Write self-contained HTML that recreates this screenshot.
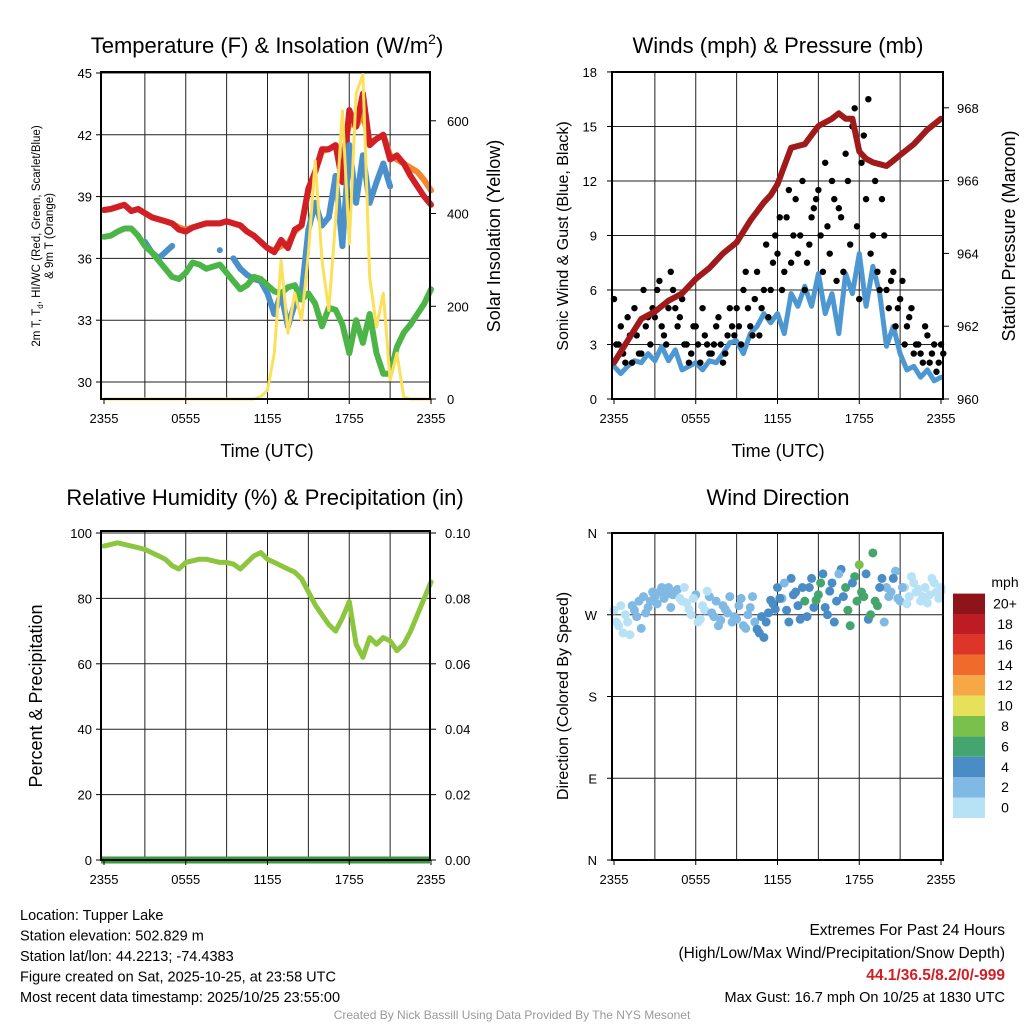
<!DOCTYPE html>
<html><head><meta charset="utf-8">
<style>
html,body{margin:0;padding:0;background:#fff;}
svg{display:block;font-family:"Liberation Sans",Arial,sans-serif;}
</style></head>
<body>
<svg id="c" width="1024" height="1024" viewBox="0 0 1024 1024" xmlns="http://www.w3.org/2000/svg"></svg>
<script>
// ---- data (half-hourly, 49 points from 2355 to 2355) ----
const timeTicks = ["2355","0555","1155","1755","2355"];
const tempRed = [38.35,38.4,38.5,38.6,38.3,38.4,38.2,38.0,37.9,37.8,37.7,37.4,37.3,37.5,37.6,37.7,37.7,37.7,37.8,37.7,37.6,37.3,37.1,36.8,36.5,36.3,36.9,36.5,37.4,37.6,39.4,40.2,41.3,41.3,41.5,39.7,43.2,42.4,44.0,41.5,41.8,42.0,40.8,41.0,40.6,40.0,39.5,39.0,38.6];
const tempOrange = [38.35,38.4,38.5,38.6,38.3,38.4,38.2,38.0,37.9,37.8,37.7,37.5,37.4,37.5,37.6,37.7,37.7,37.7,37.8,37.7,37.6,37.3,37.1,36.8,36.5,36.4,36.6,36.7,37.3,37.6,39.3,40.2,41.2,41.3,41.5,40.8,42.6,42.4,43.0,41.6,41.8,42.0,41.0,40.8,40.6,40.4,40.2,39.8,39.3];
const dewGreen = [37.05,37.1,37.3,37.45,37.45,37.1,36.6,36.3,35.9,35.5,35.1,35.0,35.3,35.8,35.7,35.5,35.6,35.7,35.3,34.9,34.5,34.7,35.1,35.0,34.7,34.4,34.3,34.6,34.7,34.0,34.3,33.8,32.7,33.6,33.5,32.8,31.4,33.0,31.9,33.3,31.4,30.4,30.4,31.7,32.4,32.8,33.3,33.8,34.5];
const hiwcBlue = [null,null,null,null,null,null,36.8,36.3,36.0,36.3,36.6,null,null,null,null,null,null,36.4,null,36.0,35.5,35.2,35.0,34.9,34.3,33.3,34.3,32.7,33.8,34.3,37.4,38.7,37.6,38.0,40.0,36.6,41.5,38.7,41.0,38.7,39.7,40.6,39.5,null,null,null,null,null,null];
const solar = [0,0,0,0,0,0,0,0,0,0,0,0,0,0,0,0,0,0,0,0,0,0,0,5,19,99,299,142,228,170,314,514,299,191,385,621,335,658,700,262,155,228,41,99,4,0,0,0,0];
const windSpeed = [1.8,1.4,1.8,2.1,2.0,2.5,2.1,2.9,2.1,2.7,1.6,1.8,2.0,1.6,2.1,2.0,2.5,3.1,3.2,2.5,3.6,4.0,4.7,4.2,4.7,3.6,5.8,5.1,6.2,5.1,6.9,4.7,5.8,3.6,6.9,5.8,8.0,5.1,7.3,5.8,2.9,4.0,2.5,1.6,1.8,1.2,1.6,1.0,1.2];
const pressure = [961.0,961.3,961.6,961.9,962.2,962.3,962.4,962.55,962.7,962.8,962.9,963.1,963.3,963.45,963.6,963.8,964.0,964.15,964.3,964.6,964.9,965.15,965.4,965.6,965.9,966.4,966.9,966.95,967.0,967.25,967.5,967.6,967.7,967.85,967.7,967.7,966.8,966.6,966.5,966.45,966.4,966.55,966.7,966.85,967.0,967.2,967.4,967.55,967.7];
const rh = [96,96.5,97,96.5,96,95.5,95,94,93,92,90,89,91,91.5,92,92,91.5,91,91,90.5,89,91,93,94,92,91,90,89,88,86,82,78,75,72,70,74,79,66,62,68,66,68,67,64,66,70,75,80,85];
// 20-minute samples (73 points)
const gustA = [5.5,3,2.5,4.5,2,3.5,2.5,4,3, 4.5,6.5,3.5,5,6,4,5.5, 3,2.5,4,2,3.5,2.5,3,4.5,2,3.5,4, 5,3,7,4,5.5,3.5,6,4.5,7.5, 8,6,10,7.5,11,9,6,8.5,10.5, 11.5,7,9.5,12,6.5,10,13.5,8.5,16, 5.5,14.5,16.5,9,7,11,6, 6.5,4,5.5,3,4.5,2.5, 3,2,3.5,2.5,1.5,3];
const gustB = [3,4,2,3.5,5,2.5,6,4.5,5, 6,4,3,7,5,4.5,3, 2,4,3,5,3,2.5,4,3,2.5,5,3.5, 4,6,5,3.5,7,5,8.5,6,9, 10,7,11.5,9,8,12,7.5,10,11, 9,13,8,11,10.5,7,12,15,9.5, 13,11,8,12,6,9,5, 7,5,6.5,4,5,3, 2.5,4,2,3,2,2.5];
const windDir = [275,258,250,262,280,268,255,272,285, 290,295,288,300,292,298,285, 283,270,292,265,275,290,268,258,280,272,262, 265,288,255,278,262,250,245,272,282, 300,288,275,310,295,265,285,300,278, 292,315,270,305,285,320,300,258,312, 325,290,265,338,280,310,300, 295,318,285,300,290,305, 298,290,283,310,295,300];
const windDir2 = [262,280,270,248,275,285,290,278,295, 282,300,292,278,296,288,300, 276,288,262,280,296,272,285,264,276,290,268, 280,258,270,290,254,268,262,286,276, 288,305,262,292,280,300,268,310,286, 305,278,296,262,315,290,275,305,285, 295,315,270,285,300,262,290, 310,288,300,282,312,295, 285,300,292,305,288,296];
const dirTicks = ["N","E","S","W","N"];
const cbLabels = ["0","2","4","6","8","10","12","14","16","18","20+"];
const cbColors = ["#b7e2f6","#7fb9e4","#4a8dc6","#45a56f","#7ac14b","#e7e05a","#f7a846","#ef6a2b","#dd3527","#bd1c24","#8d1418"];

const S = document.getElementById('c');
const NS = "http://www.w3.org/2000/svg";
function mk(tag, attrs, parent){const e=document.createElementNS(NS,tag);for(const k in attrs)e.setAttribute(k,attrs[k]);(parent||S).appendChild(e);return e;}
function txt(x,y,s,size,anchor,parent,extra){const t=mk('text',Object.assign({x:x,y:y,'font-size':size,'text-anchor':anchor||'middle',fill:'#000'},extra||{}),parent);t.textContent=s;return t;}

function panel(name,x0,x1,y0,y1){
  const g=mk('g',{});
  
  
  return {g,x0,x1,y0,y1};
}
function tx(p,h){return p.tx0+(p.tx1-p.tx0)*h/24;}
function grid(p,hy){
  for(let i=1;i<8;i++){const x=tx(p,i*3);const l=mk('line',{x1:x,x2:x,y1:p.y0,y2:p.y1,stroke:'#222','stroke-width':1},p.g);
    
    }
  hy.forEach(y=>{const l=mk('line',{x1:p.x0,x2:p.x1,y1:y,y2:y,stroke:'#222','stroke-width':1},p.g);
    
    });
}
function frame(p){const r=mk('rect',{x:p.x0,y:p.y0,width:p.x1-p.x0,height:p.y1-p.y0,fill:'none',stroke:'#000','stroke-width':2},p.g);
  
  }
function xTicks(p){timeTicks.forEach((s,i)=>{const x=tx(p,i*6);mk('line',{x1:x,x2:x,y1:p.y1,y2:p.y1+5,stroke:'#000'},p.g);
  const t=txt(x,p.y1+24,s,13,'middle',p.g);
  
  });}
function line(p,vals,yf,color,w,name,dots){
  let d='';let pen=false;
  vals.forEach((v,i)=>{if(v===null){pen=false;return;}const x=tx(p,i*0.5),y=yf(v);d+=(pen?'L':'M')+x.toFixed(1)+','+y.toFixed(1);pen=true;});
  const e=mk('path',{d:d,fill:'none',stroke:color,'stroke-width':w,'stroke-linejoin':'round','stroke-linecap':'round'},p.g);
  
  
  if(dots){vals.forEach((v,i)=>{if(v===null)return;const c=mk('circle',{cx:tx(p,i*0.5),cy:yf(v),r:w/2,fill:color},p.g);
    
    });}
}

// ===== Panel 1: Temperature =====
const p1=panel('temperature-panel',101,430,72,399);p1.tx0=104;p1.tx1=431;
const yT=v=>382-(v-30)*20.6;const yS=v=>399-v*0.4637;
grid(p1,[30,33,36,39,42,45].map(yT));
line(p1,tempOrange,yT,'#f4862f',6,'temperature-9m-line');
line(p1,tempRed,yT,'#d21f26',6,'temperature-2m-line');
line(p1,hiwcBlue,yT,'#4b90ca',6,'heat-index-windchill-line',true);
line(p1,dewGreen,yT,'#4cb548',6,'dewpoint-line');
line(p1,solar,yS,'#fbe05a',3,'solar-insolation-line');
frame(p1);xTicks(p1);
[30,33,36,39,42,45].forEach(v=>{mk('line',{x1:96,x2:101,y1:yT(v),y2:yT(v),stroke:'#000'},p1.g);
  const t=txt(92,yT(v)+5,String(v),13,'end',p1.g);
  
  });
[0,200,400,600].forEach(v=>{mk('line',{x1:430,x2:436,y1:yS(v),y2:yS(v),stroke:'#000'},p1.g);
  const t=txt(447,yS(v)+5,String(v),13,'start',p1.g);
  
  });
let t;
t=txt(267,53,'',22,'middle');t.innerHTML='Temperature (F) &amp; Insolation (W/m<tspan dy="-9" font-size="14">2</tspan><tspan dy="9">)</tspan>';

t=txt(267,457,'Time (UTC)',18);
t=txt(0,0,'',11.5,'middle',null,{transform:'translate(40,236) rotate(-90)'});
t.innerHTML='<tspan x="0" dy="0">2m T, T<tspan font-size="8" dy="3">d</tspan><tspan dy="-3">, HI/WC (Red, Green, Scarlet/Blue)</tspan></tspan><tspan x="0" dy="13">&amp; 9m T (Orange)</tspan>';

t=txt(0,0,'Solar Insolation (Yellow)',18,'middle',null,{transform:'translate(500,236) rotate(-90)'});


// ===== Panel 2: Winds =====
const p2=panel('winds-panel',612,943,72,399);p2.tx0=614;p2.tx1=941;
const yW=v=>399-v*18.17;const yP=v=>399-(v-960)*36.4;
grid(p2,[0,3,6,9,12,15,18].map(yW));
function gusts(arr,off,name){arr.forEach((v,i)=>{const c=mk('circle',{cx:tx(p2,i/3+off),cy:yW(v),r:3.2,fill:'#000'},p2.g);
  
  });}
line(p2,windSpeed,yW,'#4d97d3',5,'sonic-wind-line');
gusts(gustA,0,'gust-point');gusts(gustB,1/6,'gust-point');
line(p2,pressure,yP,'#a01a1c',6,'pressure-line');
frame(p2);xTicks(p2);
[0,3,6,9,12,15,18].forEach(v=>{mk('line',{x1:607,x2:612,y1:yW(v),y2:yW(v),stroke:'#000'},p2.g);
  const t=txt(597,yW(v)+5,String(v),13,'end',p2.g);
  });
[960,962,964,966,968].forEach(v=>{mk('line',{x1:943,x2:949,y1:yP(v),y2:yP(v),stroke:'#000'},p2.g);
  const t=txt(957,yP(v)+5,String(v),13,'start',p2.g);
  });
t=txt(778,53,'Winds (mph) & Pressure (mb)',22);
t=txt(778,457,'Time (UTC)',18);
t=txt(0,0,'Sonic Wind & Gust (Blue, Black)',16,'middle',null,{transform:'translate(568,236) rotate(-90)'});

t=txt(0,0,'Station Pressure (Maroon)',18,'middle',null,{transform:'translate(1015,236) rotate(-90)'});


// ===== Panel 3: RH =====
const p3=panel('humidity-panel',101,430,531,860);p3.tx0=104;p3.tx1=431;
const yR=v=>860-v*3.27;
grid(p3,[0,20,40,60,80,100].map(yR));
line(p3,rh,yR,'#8cc63f',5,'relative-humidity-line');
const pz=mk('line',{x1:101,x2:430,y1:860,y2:860,stroke:'#3a9a3a','stroke-width':7},p3.g);

frame(p3);xTicks(p3);
[0,20,40,60,80,100].forEach(v=>{mk('line',{x1:96,x2:101,y1:yR(v),y2:yR(v),stroke:'#000'},p3.g);
  const t=txt(92,yR(v)+5,String(v),13,'end',p3.g);
  });
["0.00","0.02","0.04","0.06","0.08","0.10"].forEach((s,i)=>{const y=yR(i*20);mk('line',{x1:430,x2:436,y1:y,y2:y,stroke:'#000'},p3.g);
  const t=txt(445,y+5,s,13,'start',p3.g);
  });
t=txt(265,505,'Relative Humidity (%) & Precipitation (in)',22);
t=txt(0,0,'Percent & Precipitation',18,'middle',null,{transform:'translate(42,696) rotate(-90)'});


// ===== Panel 4: Wind direction =====
const p4=panel('wind-direction-panel',612,943,533,860);p4.tx0=614;p4.tx1=941;
const yD=v=>860-v*327/360;
grid(p4,[0,90,180,270,360].map(yD));
function interpWind(h){const i=Math.min(47,Math.floor(h*2));const f=h*2-i;return windSpeed[i]*(1-f)+windSpeed[i+1]*f;}
function dirPts(arr,off){arr.forEach((d,i)=>{const h=Math.min(24,i/3+off);const sp=interpWind(h);const bin=Math.min(10,Math.max(0,Math.floor(sp/2)));
  const c=mk('circle',{cx:tx(p4,h),cy:yD(d),r:4.5,fill:cbColors[bin]},p4.g);
  
  });}
dirPts(windDir,0);dirPts(windDir2,1/6);
frame(p4);xTicks(p4);
dirTicks.forEach((s,i)=>{const y=yD(i*90);mk('line',{x1:607,x2:612,y1:y,y2:y,stroke:'#000'},p4.g);
  const t=txt(597,y+5,s,13,'end',p4.g);
  });
t=txt(778,505,'Wind Direction',22);
t=txt(0,0,'Direction (Colored By Speed)',16,'middle',null,{transform:'translate(568,696) rotate(-90)'});

// colorbar
const cb=mk('g',{});
cbColors.forEach((c,i)=>{const y=818-(i+1)*20.4;const r=mk('rect',{x:953,y:y,width:32,height:20.4,fill:c},cb);
  
  const l=txt(1005,y+15,cbLabels[i],14,'middle',cb);
  });
t=txt(1005,587,'mph',14,'middle',cb);

// ===== Footer text =====
const info=["Location: Tupper Lake","Station elevation: 502.829 m","Station lat/lon: 44.2213; -74.4383","Figure created on Sat, 2025-10-25, at 23:58 UTC","Most recent data timestamp: 2025/10/25 23:55:00"];
info.forEach((s,i)=>{const e=txt(20,920+i*20.5,s,14.5,'start');});
t=txt(1005,935,'Extremes For Past 24 Hours',15.5,'end');
t=txt(1005,958,'(High/Low/Max Wind/Precipitation/Snow Depth)',15.5,'end');
t=txt(1005,980,'44.1/36.5/8.2/0/-999',15.5,'end',null,{fill:'#d21f26','font-weight':'bold'});
t=txt(1005,1002,'Max Gust: 16.7 mph On 10/25 at 1830 UTC',14.5,'end');
t=txt(512,1019,'Created By Nick Bassill Using Data Provided By The NYS Mesonet',12,'middle',null,{fill:'#999'});
</script>
</body></html>
